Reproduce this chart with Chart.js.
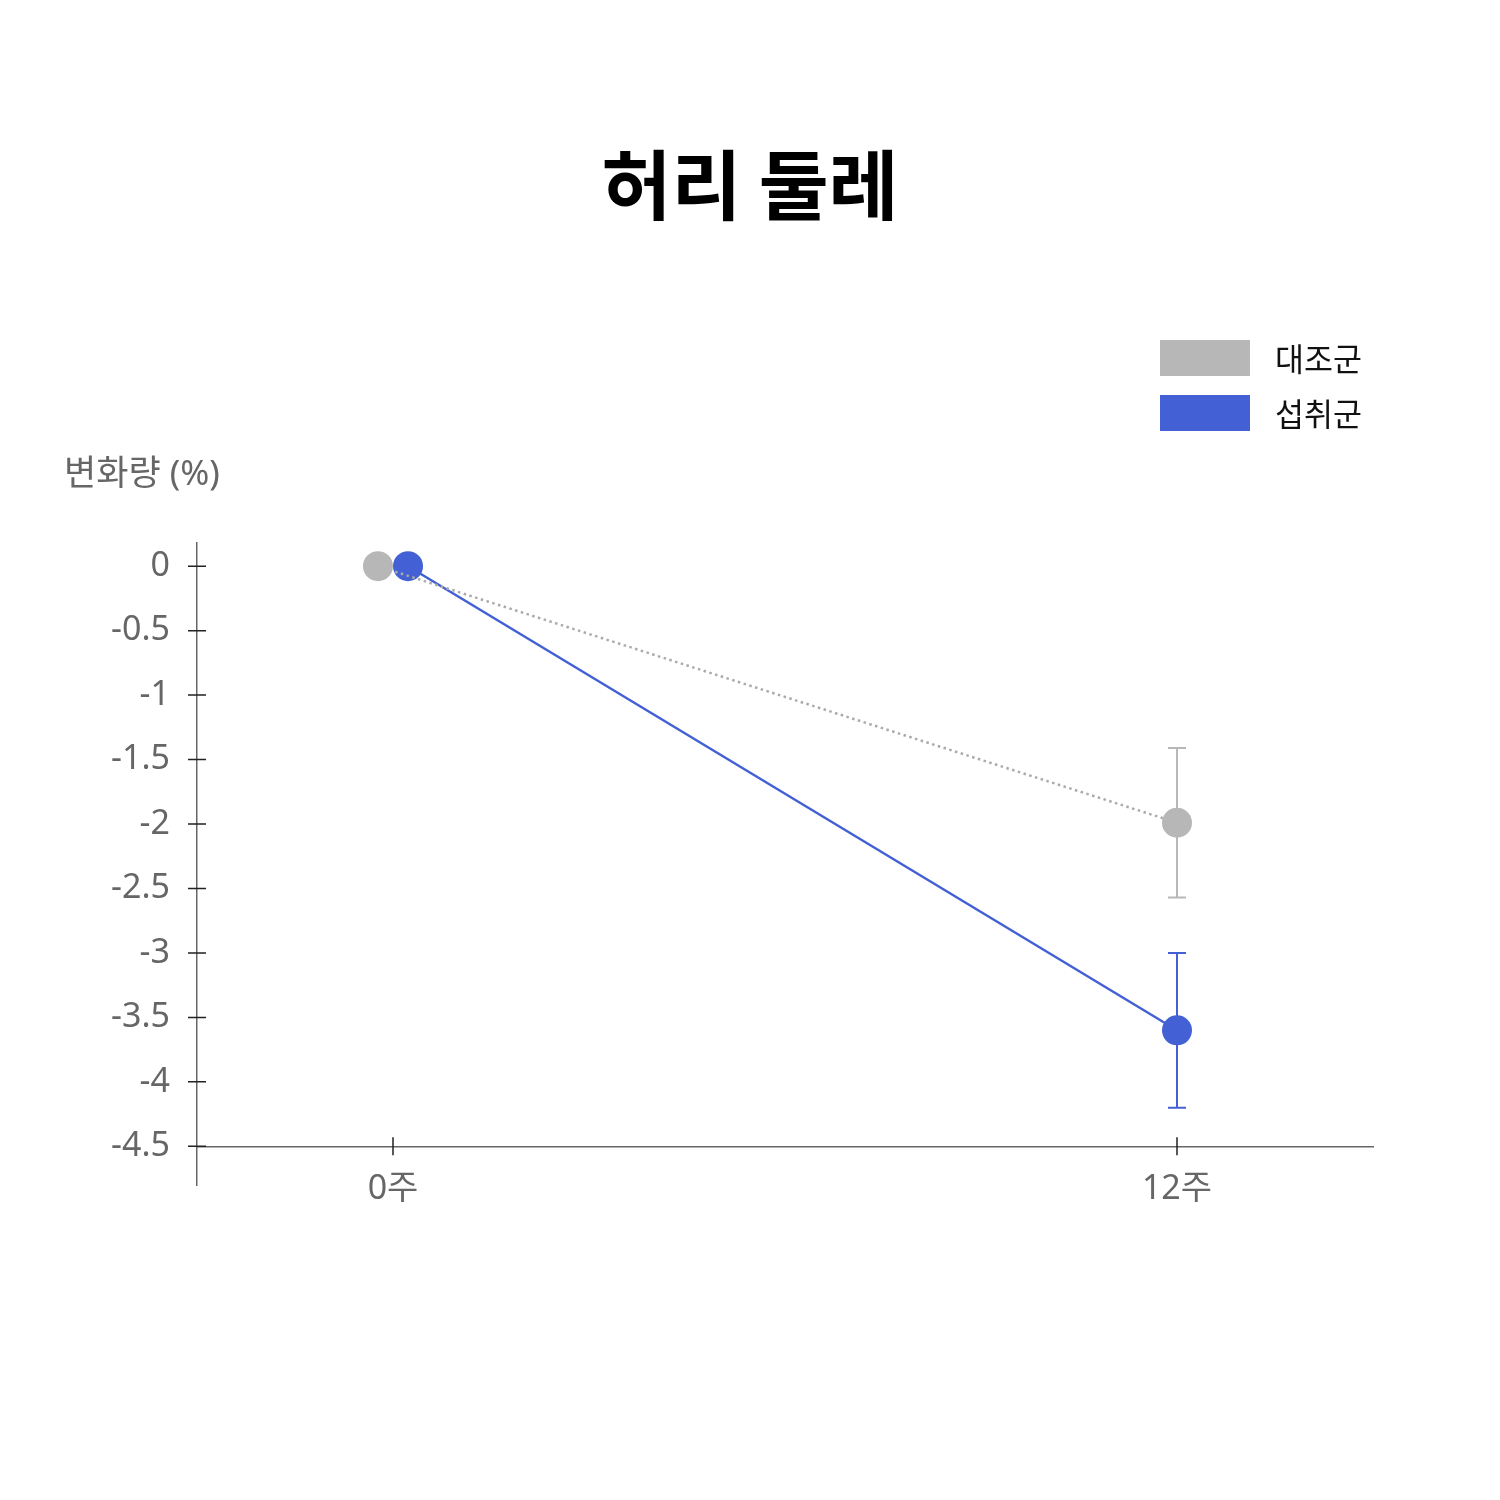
<!DOCTYPE html>
<html>
<head>
<meta charset="utf-8">
<script src="https://cdn.jsdelivr.net/npm/chart.js@4"></script>
<style>
  body { margin: 0; background: #fff; }
  #wrap { width: 1500px; height: 1500px; }
</style>
</head>
<body>
<div id="wrap"><canvas id="waistChart"></canvas></div>
<script>
// values
const weeks = [0, 12];
const weekLabels = ["0주", "12주"];
const seriesNames = ["대조군", "섭취군"];
const controlMean = [0, -1.99];
const controlErr = [0, 0.58];
const intakeMean = [0, -3.6];
const intakeErr = [0, 0.6];
const yTicks = [0, -0.5, -1, -1.5, -2, -2.5, -3, -3.5, -4, -4.5];

const GRAY = "#b7b7b7";
const BLUE = "#4360d4";
const FONT = "'Noto Sans CJK KR', 'Noto Sans', sans-serif";
const TICK_FONT = "'Noto Sans', 'Noto Sans CJK KR', sans-serif";
const dodge = 0.23; // the two points at 0주 sit side by side

const toPoints = (mean, shift) =>
  weeks.map((w, i) => ({ x: w + (i === 0 ? shift : 0), y: mean[i] }));

// error bars + crossing tick marks + axis label + legend
const extras = {
  id: "extras",
  beforeDatasetsDraw(chart) {
    const ctx = chart.ctx;
    const xs = chart.scales.x, ys = chart.scales.y;
    const errs = [controlErr, intakeErr];
    chart.data.datasets.forEach((ds, d) => {
      ds.data.forEach((p, i) => {
        if (!errs[d][i]) return;
        const px = xs.getPixelForValue(p.x);
        const top = ys.getPixelForValue(p.y + errs[d][i]);
        const bot = ys.getPixelForValue(p.y - errs[d][i]);
        ctx.save();
        ctx.strokeStyle = ds.backgroundColor;
        ctx.lineWidth = 2;
        ctx.beginPath();
        ctx.moveTo(px, top); ctx.lineTo(px, bot);
        ctx.moveTo(px - 9, top); ctx.lineTo(px + 9, top);
        ctx.moveTo(px - 9, bot); ctx.lineTo(px + 9, bot);
        ctx.stroke();
        ctx.restore();
      });
    });
  },
  afterDraw(chart) {
    const ctx = chart.ctx;
    const xs = chart.scales.x, ys = chart.scales.y;
    const axisX = chart.chartArea.left;
    const axisY = ys.getPixelForValue(-4.5);
    ctx.save();
    ctx.strokeStyle = "#222";
    ctx.lineWidth = 1.5;
    ctx.beginPath();
    yTicks.forEach((v) => {
      const py = ys.getPixelForValue(v);
      ctx.moveTo(axisX - 9, py); ctx.lineTo(axisX + 9, py);
    });
    weeks.forEach((w) => {
      const px = xs.getPixelForValue(w);
      ctx.moveTo(px, axisY - 9); ctx.lineTo(px, axisY + 9);
    });
    ctx.stroke();

    // y axis title, horizontal above the axis
    ctx.fillStyle = "#666";
    ctx.font = "35px " + TICK_FONT;
    ctx.textAlign = "left";
    ctx.textBaseline = "middle";
    ctx.fillText("변화량 (%)", 64, 475);

    // legend
    const colors = [GRAY, BLUE];
    ctx.font = "31.5px " + FONT;
    seriesNames.forEach((name, i) => {
      const y = 340 + i * 55;
      ctx.fillStyle = colors[i];
      ctx.fillRect(1160, y, 90, 36);
      ctx.fillStyle = "#111";
      ctx.fillText(name, 1275, y + 19);
    });
    ctx.restore();
  }
};

new Chart(document.getElementById("waistChart"), {
  type: "scatter",
  data: {
    datasets: [
      {
        label: seriesNames[0],
        data: toPoints(controlMean, -dodge),
        showLine: true,
        borderColor: "#aaaaaa",
        backgroundColor: GRAY,
        borderWidth: 2.5,
        borderDash: [2.5, 3.5],
        pointRadius: 15,
        pointHoverRadius: 15,
        pointBorderWidth: 0,
      },
      {
        label: seriesNames[1],
        data: toPoints(intakeMean, dodge),
        showLine: true,
        borderColor: BLUE,
        backgroundColor: BLUE,
        borderWidth: 2.5,
        pointRadius: 15,
        pointHoverRadius: 15,
        pointBorderWidth: 0,
      },
    ],
  },
  options: {
    responsive: true,
    maintainAspectRatio: false,
    animation: false,
    layout: { padding: { left: 0, right: 0, top: 0, bottom: 315 } },
    plugins: {
      legend: { display: false },
      tooltip: { enabled: false },
      title: {
        display: true,
        text: "허리 둘레",
        color: "#000",
        font: { family: FONT, size: 76, weight: "bold", lineHeight: 1.2 },
        padding: { top: 140, bottom: 311.8 },
      },
    },
    scales: {
      x: {
        type: "linear",
        min: -3,
        max: 15,
        position: { y: -4.5 },
        grid: { display: false, drawTicks: false },
        border: { display: true, color: "#666", width: 1.5 },
        afterBuildTicks: (s) => { s.ticks = weeks.map((v) => ({ value: v })); },
        ticks: {
          padding: 23,
          color: "#666",
          font: { family: TICK_FONT, size: 34 },
          callback: (v) => weekLabels[weeks.indexOf(v)],
        },
      },
      y: {
        min: -4.8,
        max: 0.18,
        afterFit: (s) => { s.width = 197; },
        grid: { display: false, drawTicks: false },
        border: { display: true, color: "#666", width: 1.5 },
        afterBuildTicks: (s) => { s.ticks = yTicks.map((v) => ({ value: v })); },
        ticks: {
          padding: 27,
          color: "#666",
          font: { family: TICK_FONT, size: 34 },
          callback: (v) => String(v),
        },
      },
      // empty right-hand axis, only keeps the plot clear of the right margin
      yRight: {
        position: "right",
        min: -4.8,
        max: 0.18,
        afterFit: (s) => { s.width = 127; },
        grid: { display: false, drawTicks: false },
        border: { display: false },
        ticks: { display: false },
      },
    },
  },
  plugins: [extras],
});
</script>
</body>
</html>
